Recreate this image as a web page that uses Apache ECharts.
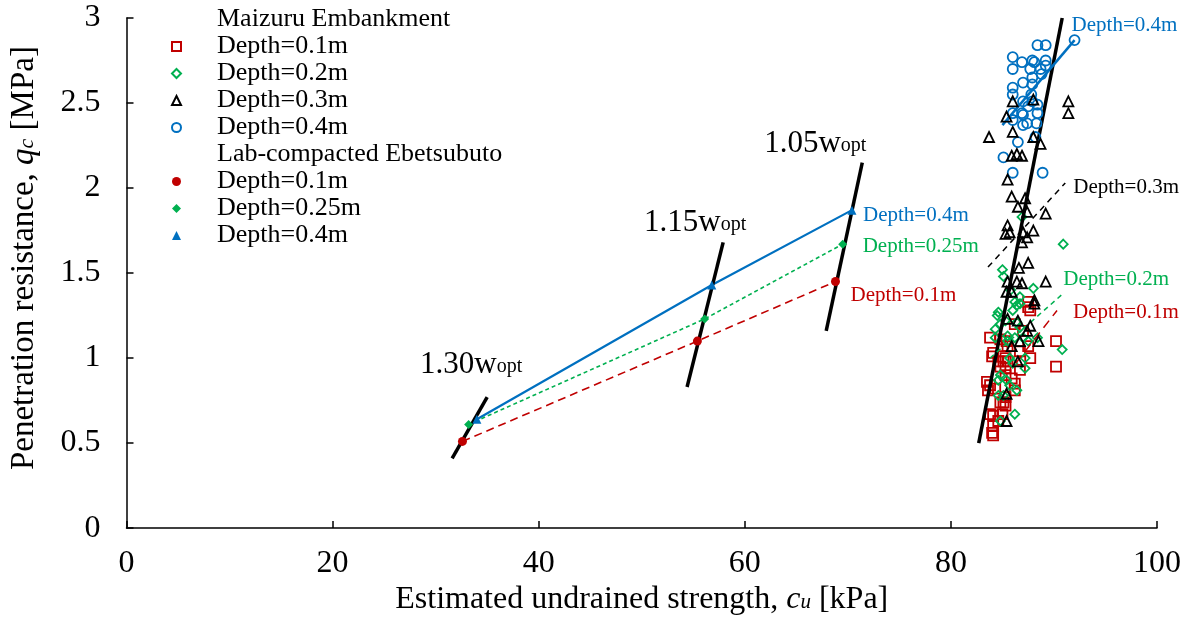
<!DOCTYPE html>
<html><head><meta charset="utf-8">
<script src="https://cdn.jsdelivr.net/npm/echarts@6/dist/echarts.min.js"></script>
<style>html,body{margin:0;padding:0;background:#fff}#c{width:1189px;height:626px}</style>
</head><body><div id="c"></div>
<script>
// ---- data ----
const xTicks = [0, 20, 40, 60, 80, 100];
const yTicks = [0, 0.5, 1, 1.5, 2, 2.5, 3];

// Maizuru Embankment (field)
const maizuru01 = [[83.8,1.12],[84.8,1.11],[85.4,1.10],[87.5,1.07],[84.1,1.03],[84.0,1.01],[85.3,1.00],[85.5,0.98],[87.7,1.00],[86.7,0.93],[84.8,0.95],[85.3,0.94],[83.5,0.86],[83.8,0.84],[83.6,0.81],[84.3,0.82],[85.3,0.77],[84.8,0.74],[85.3,0.72],[83.8,0.67],[84.1,0.66],[84.6,0.63],[84.1,0.60],[84.0,0.56],[85.0,0.67],[85.5,1.07],[85.0,1.07],[86.7,1.04],[85.3,0.90],[85.9,0.88],[87.5,1.33],[87.5,1.30],[87.7,1.28],[90.2,1.10],[90.2,0.95],[86.2,1.20],[87.0,1.16],[84.6,0.98],[85.1,0.98],[86.2,0.85],[86.2,0.81],[85.1,0.74],[84.1,0.545]];
const maizuru02 = [[90.9,1.67],[85.0,1.52],[85.1,1.48],[88.0,1.41],[86.7,1.36],[86.2,1.33],[86.7,1.32],[86.4,1.31],[84.6,1.27],[84.5,1.25],[85.3,1.22],[84.8,1.20],[86.4,1.21],[86.7,1.18],[84.3,1.17],[84.3,1.12],[85.5,1.13],[86.2,1.12],[85.5,1.10],[87.0,1.12],[87.5,1.10],[88.4,1.12],[90.8,1.05],[85.7,1.00],[86.0,0.97],[87.2,1.00],[87.2,0.94],[84.8,0.90],[85.4,0.87],[84.6,0.87],[85.7,0.84],[86.4,0.81],[84.6,0.78],[85.1,0.78],[86.2,0.67],[84.8,0.63],[86.0,1.28],[85.8,1.40],[86.9,1.83]];
const maizuru03 = [[86.0,2.51],[85.4,2.42],[88.0,2.52],[91.4,2.51],[91.4,2.44],[83.7,2.30],[86.0,2.33],[88.0,2.30],[88.7,2.26],[85.9,2.19],[86.4,2.20],[86.9,2.19],[85.5,2.05],[85.9,1.95],[87.2,1.94],[86.5,1.89],[87.4,1.86],[89.2,1.85],[85.5,1.78],[85.7,1.74],[85.3,1.73],[87.0,1.74],[88.0,1.75],[87.4,1.71],[86.9,1.68],[87.5,1.56],[86.6,1.53],[85.5,1.45],[86.4,1.45],[89.2,1.45],[86.9,1.44],[85.4,1.39],[85.9,1.39],[88.1,1.34],[88.1,1.32],[85.5,1.23],[86.5,1.22],[87.7,1.19],[87.4,1.16],[86.7,1.10],[85.9,1.07],[88.5,1.10],[86.5,0.98],[85.4,0.79],[85.4,0.63]];
const maizuru04 = [[88.4,2.84],[89.2,2.84],[86.0,2.77],[86.9,2.74],[87.9,2.75],[88.1,2.74],[89.2,2.75],[89.2,2.72],[86.0,2.70],[87.7,2.70],[88.7,2.70],[87.9,2.65],[88.8,2.67],[87.0,2.62],[87.9,2.61],[86.0,2.59],[86.0,2.55],[87.8,2.55],[87.0,2.51],[87.9,2.51],[87.5,2.48],[88.4,2.49],[88.4,2.44],[87.0,2.43],[86.0,2.44],[86.9,2.44],[86.0,2.40],[87.0,2.37],[87.4,2.38],[88.3,2.38],[88.2,2.30],[86.5,2.27],[85.1,2.18],[86.0,2.09],[88.9,2.09],[92.0,2.87]];

// Lab-compacted Ebetsubuto
const lab01 = [[32.6,0.51],[55.4,1.10],[68.8,1.45]];
const lab025 = [[33.2,0.61],[56.1,1.23],[69.5,1.67]];
const lab04 = [[34.0,0.64],[56.8,1.43],[70.4,1.87]];

// guide lines
const w130 = [[31.6,0.41],[35.0,0.77]];
const w115 = [[54.4,0.83],[57.9,1.68]];
const w105 = [[67.9,1.16],[71.4,2.15]];
const maizuruFit = [[82.7,0.50],[90.8,3.0]];
const trend04 = [[85.0,2.37],[92.0,2.87]];
const trend03 = [[83.6,1.535],[91.1,2.03]];
const trend02 = [[83.8,1.0],[90.9,1.38]];
const trend01 = [[86.3,0.97],[90.3,1.28]];

const legendNames = ['Maizuru Embankment','Depth=0.1m','Depth=0.2m','Depth=0.3m','Depth=0.4m','Lab-compacted Ebetsubuto','Depth=0.1m','Depth=0.25m','Depth=0.4m'];
const wLabels = ['1.30', '1.15', '1.05'];
const depthLabels = ['Depth=0.1m','Depth=0.2m','Depth=0.3m','Depth=0.4m','Depth=0.25m'];

// ---- chart ----
const FONT = 'Liberation Serif';
const RED = '#C00000', GREEN = '#00B050', BLUE = '#0070C0', BLACK = '#000000';
const chart = echarts.init(document.getElementById('c'), null, {renderer: 'canvas'});

const seriesIds = ['hdrM','M01','M02','M03','M04','hdrL','L01','L025','L04'];
const nameMap = {};
seriesIds.forEach((id, i) => nameMap[id] = legendNames[i]);

function wLabel(txt, off) {
  return {show: true, position: 'inside', offset: off,
    formatter: '{a|' + txt + 'w}{b|opt}',
    rich: {
      a: {fontFamily: FONT, fontSize: 31, color: '#000', lineHeight: 32, padding: [0,0,4,0]},
      b: {fontFamily: FONT, fontSize: 20, color: '#000', lineHeight: 20}
    }};
}
function depthLabel(txt, color, off) {
  return {show: true, position: 'right', distance: 4, offset: off, formatter: txt,
    fontFamily: FONT, fontSize: 21, color: color};
}
function lineSeries(data, color, width, type, label, z) {
  return {type: 'line', silent: true, z: z || 2, animation: false,
    symbol: 'circle', symbolSize: 0, showSymbol: true,
    lineStyle: {color: color, width: width, type: type, cap: 'butt'},
    itemStyle: {color: color},
    data: data.map((d, i) => (label && i === data.length - 1) ? {value: d, label: label} : d)};
}
function scatter(name, data, symbol, size, color, hollow, z) {
  return {type: 'scatter', name: name, data: data, symbol: symbol, symbolSize: size, z: z || 4,
    animation: false,
    itemStyle: hollow ? {color: 'rgba(255,255,255,0)', borderColor: color, borderWidth: 1.8, opacity: 1}
                      : {color: color, borderWidth: 0, opacity: 1}};
}

const series = [
  {type: 'scatter', name: 'hdrM', data: []},
  scatter('M01', maizuru01, 'rect', 10, RED, true, 3),
  scatter('M02', maizuru02, 'diamond', 9, GREEN, true, 3),
  scatter('M03', maizuru03, 'triangle', 10, BLACK, true, 5),
  scatter('M04', maizuru04, 'circle', 10, BLUE, true, 4),
  {type: 'scatter', name: 'hdrL', data: []},
  scatter('L01', lab01, 'circle', 9, RED, false, 6),
  scatter('L025', lab025, 'diamond', 9, GREEN, false, 6),
  scatter('L04', lab04, 'triangle', 9, BLUE, false, 6),
  // lab connecting lines
  lineSeries(lab04, BLUE, 2.2, 'solid', depthLabel(depthLabels[3], BLUE, [7, 5]), 2),
  lineSeries(lab025, GREEN, 1.6, [4, 3], depthLabel(depthLabels[4], GREEN, [16, 2]), 2),
  lineSeries(lab01, RED, 1.6, [8, 5], depthLabel(depthLabels[0], RED, [11, 14]), 2),
  // water content lines
  lineSeries(w130, BLACK, 3.5, 'solid', wLabel(wLabels[0], [-16, -30]), 3),
  lineSeries(w115, BLACK, 3.5, 'solid', wLabel(wLabels[1], [-28, -18]), 3),
  lineSeries(w105, BLACK, 3.5, 'solid', wLabel(wLabels[2], [-47, -17]), 3),
  lineSeries(maizuruFit, BLACK, 3.5, 'solid', null, 4),
  // Maizuru trend lines
  lineSeries(trend04, BLUE, 2.5, 'solid', depthLabel(depthLabels[3], BLUE, [-7, -15]), 4),
  lineSeries(trend03, BLACK, 1.5, [6, 5], depthLabel(depthLabels[2], BLACK, [4, 5]), 4),
  lineSeries(trend02, GREEN, 1.5, [5, 4], depthLabel(depthLabels[1], GREEN, [-4, -14]), 4),
  lineSeries(trend01, RED, 1.5, [9, 6], depthLabel(depthLabels[0], RED, [12, 2]), 4)
];

function titleRich(fs) {
  return {
    n: {fontFamily: FONT, fontSize: fs, color: '#000', lineHeight: fs + 2, padding: [0,0,5,0]},
    i: {fontFamily: FONT, fontSize: fs, color: '#000', fontStyle: 'italic', lineHeight: fs + 2, padding: [0,0,5,0]},
    s: {fontFamily: FONT, fontSize: Math.round(fs * 0.66), color: '#000', fontStyle: 'italic', lineHeight: Math.round(fs * 0.66)}
  };
}

const option = {
  backgroundColor: '#ffffff',
  animation: false,
  grid: {left: 126, right: 32, top: 18, bottom: 96, containLabel: false},
  legend: {
    orient: 'vertical', left: 171, top: 6, padding: 0,
    itemWidth: 9, itemHeight: 9, itemGap: 0,
    selectedMode: false,
    textStyle: {fontFamily: FONT, fontSize: 26, color: '#000', lineHeight: 27,
      rich: {p: {width: 31, fontSize: 26, lineHeight: 27}}},
    formatter: n => '{p| }' + nameMap[n],
    data: seriesIds.map(id => (id === 'hdrM' || id === 'hdrL')
      ? {name: id, itemStyle: {opacity: 0}} : {name: id})
  },
  xAxis: {
    type: 'value', min: xTicks[0], max: xTicks[xTicks.length - 1], interval: xTicks[1] - xTicks[0],
    splitLine: {show: false},
    axisLine: {lineStyle: {color: '#000', width: 1.5}},
    axisTick: {inside: true, length: 7, lineStyle: {color: '#000', width: 1.5}},
    axisLabel: {fontFamily: FONT, fontSize: 32, color: '#000', margin: 19},
    name: '{n|Estimated undrained strength, }{i|c}{s|u}{n| [kPa]}',
    nameLocation: 'middle', nameGap: 57,
    nameTextStyle: {rich: titleRich(32)}
  },
  yAxis: {
    type: 'value', min: yTicks[0], max: yTicks[yTicks.length - 1], interval: yTicks[1] - yTicks[0],
    splitLine: {show: false},
    axisLine: {lineStyle: {color: '#000', width: 1.5}},
    axisTick: {inside: true, length: 7, lineStyle: {color: '#000', width: 1.5}},
    axisLabel: {fontFamily: FONT, fontSize: 32, color: '#000', margin: 26},
    name: '{n|Penetration resistance, }{i|q}{s|c}{n| [MPa]}',
    nameLocation: 'middle', nameGap: 82,
    nameTextStyle: {padding: [0, 0, 0, 30], rich: titleRich(33)}
  },
  series: series
};
chart.setOption(option);
</script>
</body></html>
